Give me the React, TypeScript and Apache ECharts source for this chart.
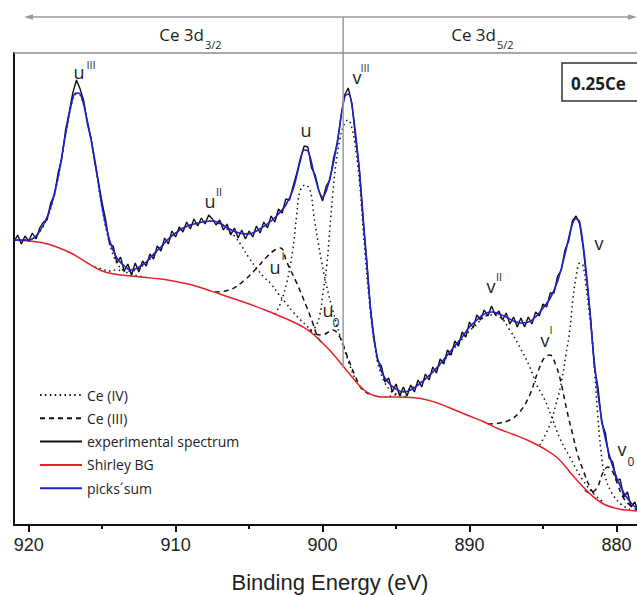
import React, { useEffect, useRef } from "react";
import * as echarts from "echarts";

// ---------- data (binding energy in eV, intensity in arbitrary units) ----------
const majorTicks = [920, 910, 900, 890, 880];
const minorTicks = [915, 905, 895, 885];
const energyMin = 878.6;
const energyMax = 921.0;
const separatorEnergy = 898.6;

// experimental spectrum, sampled every 0.25 eV starting at 921.00 eV going down
const expStart = 921.0;
const expStep = 0.25;
const experimental = [
  283, 290, 281, 289, 284, 292, 286, 297, 303, 305, 322, 330,
  352, 366, 394, 412, 432, 445, 436, 424, 401, 386, 362, 343,
  322, 304, 281, 279, 262, 268, 254, 261, 250, 262, 253, 264,
  259, 271, 266, 279, 274, 287, 281, 294, 288, 298, 293, 303,
  296, 306, 299, 307, 301, 310, 306, 300, 305, 295, 301, 290,
  297, 287, 295, 286, 294, 288, 299, 292, 303, 297, 309, 303,
  316, 312, 326, 325, 339, 352, 367, 379, 378, 357, 350, 334,
  324, 339, 345, 367, 381, 408, 430, 437, 421, 386, 357, 306,
  266, 218, 188, 164, 159, 143, 147, 133, 141, 129, 138, 129,
  140, 133, 145, 138, 151, 145, 158, 152, 166, 161, 175, 170,
  184, 179, 193, 188, 203, 197, 210, 205, 215, 209, 219, 210,
  214, 205, 212, 201, 208, 198, 207, 198, 208, 201, 213, 209,
  221, 218, 232, 232, 249, 255, 275, 284, 304, 309, 301, 276,
  242, 206, 158, 137, 102, 92, 67, 63, 44, 46, 28, 33,
  18, 23, 13,
];

const picksSum: [number, number][] = [
  [921.0, 285], [920.5, 285], [920.0, 285], [919.5, 289], [919.0, 300], [918.5, 318],
  [918.0, 348], [917.5, 390], [917.0, 427], [916.75, 432], [916.5, 431], [916.0, 403],
  [915.5, 365], [915.0, 318], [914.5, 285], [914.0, 267], [913.5, 259], [913.0, 255],
  [912.5, 258], [912.0, 263], [911.5, 271], [911.0, 278], [910.5, 286], [910.0, 292],
  [909.5, 297], [909.0, 300], [908.5, 302], [908.0, 303.5], [907.5, 304], [907.0, 302],
  [906.5, 297.5], [906.0, 293.5], [905.5, 291.5], [905.0, 291], [904.5, 294], [904.0, 298.5],
  [903.5, 304], [903.0, 311], [902.5, 320], [902.0, 336], [901.5, 365], [901.25, 375],
  [901.0, 374], [900.5, 347], [900.0, 328], [899.5, 347], [899.0, 383], [898.5, 428],
  [898.25, 431], [898.0, 420], [897.5, 355], [897.0, 263], [896.5, 185], [896.0, 154],
  [895.5, 142], [895.0, 136], [894.5, 133], [894.0, 135], [893.5, 140], [893.0, 146],
  [892.5, 153], [892.0, 161], [891.5, 170], [891.0, 179], [890.5, 188], [890.0, 198],
  [889.5, 205], [889.0, 211], [888.5, 213], [888.0, 211], [887.5, 208], [887.0, 204],
  [886.5, 202], [886.0, 203], [885.5, 208], [885.0, 217], [884.5, 227], [884.0, 244],
  [883.5, 271], [883.0, 301], [882.75, 306], [882.5, 303], [882.0, 245], [881.5, 162],
  [881.0, 105], [880.5, 71], [880.0, 48], [879.5, 32], [879.0, 22], [878.5, 15],
];

const shirleyBG: [number, number][] = [
  [921, 285], [920, 284], [919, 282], [918, 277.5], [917, 271], [916, 262], [915, 254],
  [914, 250.5], [913, 249], [912, 247.4], [911, 246], [910, 243.5], [909, 240.5],
  [908, 236], [907, 231], [906, 226], [905, 221], [904, 215.5], [903, 209.5], [902, 203],
  [901, 195], [900, 182], [899.5, 174.5], [899, 166], [898.5, 157], [898, 148],
  [897.5, 139.5], [897, 133], [896.5, 129.5], [896, 128], [895, 128], [894, 127.5],
  [893, 125.5], [892, 121], [891, 115], [890, 109], [889, 103], [888, 96], [887, 90.5],
  [886, 84.5], [885, 77], [884, 67], [883, 50], [882, 34], [881, 22], [880, 16.5],
  [879, 14.5], [878.5, 14],
];

// Ce(IV) components (dotted)
const peakU3: [number, number][] = [
  [921.0, 285], [920.0, 285], [919.5, 289], [919.0, 299], [918.5, 317], [918.0, 347],
  [917.5, 389], [917.0, 426], [916.75, 431], [916.5, 430], [916.0, 402], [915.5, 364],
  [915.0, 316], [914.5, 282], [914.0, 262], [913.5, 254], [913.0, 251], [912.5, 249],
  [912.0, 247.5],
];
const peakU2: [number, number][] = [
  [915.5, 258], [915.0, 256], [914.5, 254], [914.0, 255], [913.5, 254], [913.0, 254],
  [912.5, 257], [912.0, 262], [911.0, 278], [910.0, 292], [909.0, 300], [908.0, 303.5],
  [907.5, 304], [907.0, 301], [906.5, 296], [906.0, 289], [905.5, 279], [905.0, 267],
  [904.5, 257], [904.0, 248], [903.5, 241], [903.0, 231], [902.5, 222], [902.0, 213],
  [901.5, 205], [901.0, 198], [900.5, 190],
];
const peakU: [number, number][] = [
  [903.25, 211], [902.91, 220], [902.44, 242], [902.03, 275], [901.76, 310], [901.55, 333],
  [901.19, 340], [900.85, 335], [900.6, 310], [900.33, 285], [900.06, 263], [899.71, 238],
  [899.31, 215], [898.83, 190], [898.28, 165], [897.81, 147], [897.6, 141],
];
const peakV3: [number, number][] = [
  [900.85, 195], [900.53, 197], [900.19, 210], [899.99, 230], [899.71, 260], [899.51, 295],
  [899.31, 330], [899.1, 360], [898.83, 385], [898.55, 400], [898.28, 405], [898.01, 397],
  [897.74, 375], [897.47, 340], [897.13, 275], [896.79, 220], [896.45, 180], [896.11, 155],
  [895.43, 135], [894.74, 130], [894.06, 128],
];
const peakV2: [number, number][] = [
  [895.77, 128], [895.09, 130], [894.4, 134], [893.38, 142], [892.02, 160], [890.66, 183],
  [889.64, 199], [888.62, 210], [887.94, 208], [887.26, 195], [886.58, 178], [885.9, 158],
  [885.42, 140], [884.87, 125], [884.33, 105], [883.86, 87], [883.18, 68], [882.29, 45],
  [881.47, 30], [880.79, 22],
];
const peakV: [number, number][] = [
  [885.21, 80], [884.53, 100], [884.13, 120], [883.78, 140], [883.44, 170], [883.17, 195],
  [882.97, 225], [882.7, 252], [882.49, 262], [882.29, 260], [882.08, 240], [881.88, 215],
  [881.67, 190], [881.47, 150], [881.27, 110], [881.06, 75], [880.79, 50], [880.31, 32],
  [879.63, 20], [879.09, 16],
];

// Ce(III) components (dashed)
const peakU1: [number, number][] = [
  [907.34, 233], [906.32, 235], [905.3, 245], [904.48, 257], [903.8, 268], [903.25, 275],
  [902.85, 277], [902.44, 263], [901.76, 242], [901.08, 218], [900.67, 202], [900.33, 188],
  [899.99, 181],
];
const peakU0: [number, number][] = [
  [901.0, 195], [900.5, 191], [900.0, 190], [899.6, 193], [899.3, 195], [898.83, 188],
  [898.35, 170], [897.81, 150], [897.33, 136], [896.79, 131],
];
const peakV1: [number, number][] = [
  [888.75, 101], [887.94, 102], [887.26, 105], [886.58, 113], [885.9, 130], [885.35, 153],
  [884.87, 168], [884.53, 170], [884.13, 160], [883.78, 143], [883.38, 115], [882.97, 90],
  [882.63, 70], [882.22, 53], [881.81, 38], [881.4, 28],
];
const peakV0: [number, number][] = [
  [882.15, 35], [881.81, 32], [881.33, 37], [880.93, 52], [880.59, 58], [880.25, 53],
  [879.9, 40], [879.56, 28], [879.09, 20], [878.61, 15],
];

const legendNames = ["Ce (IV)", "Ce (III)", "experimental spectrum", "Shirley BG", "picks\u00B4sum"];

// ---------- chart ----------
const TXT = "#1e1e1e";
const SANS = '"Open Sans"';

function txt(text: string, x: number, y: number, size: number, extra: any = {}) {
  return {
    type: "text",
    x,
    y,
    z: 100,
    silent: true,
    style: {
      text,
      fill: extra.fill || TXT,
      font: `${extra.weight || "normal"} ${size}px ${extra.family || SANS}`,
      align: extra.align || "center",
      textAlign: extra.align || "center",
      verticalAlign: "middle",
      textVerticalAlign: "middle",
    },
  };
}

export default function App() {
  const ref = useRef<HTMLDivElement>(null);
  useEffect(() => {
    if (!ref.current) return;
    const chart = echarts.init(ref.current, null, { renderer: "svg", width: 637, height: 595 });

    const dotted = { color: "#111", width: 1.5, type: [1.5, 3.4] };
    const dashed = { color: "#111", width: 1.5, type: [5, 4] };
    const line = (name: string, data: any, lineStyle: any, smooth: any, z: number) => ({
      type: "line",
      name,
      data,
      xAxisIndex: 0,
      yAxisIndex: 0,
      symbol: "none",
      showSymbol: false,
      smooth,
      color: lineStyle.color,
      lineStyle,
      z,
      silent: true,
    });

    const expData = experimental.map((v, i) => [expStart - i * expStep, v]);

    const axisBase = {
      type: "value",
      min: energyMin,
      max: energyMax,
      inverse: true,
      splitLine: { show: false },
    };

    chart.setOption({
      animation: false,
      backgroundColor: "#ffffff",
      grid: { left: 14, right: 0, top: 53, bottom: 70 },
      xAxis: [
        {
          ...axisBase,
          position: "bottom",
          axisLine: { show: true, lineStyle: { color: "#111", width: 2 } },
          axisTick: {
            show: true,
            customValues: majorTicks,
            length: 7,
            lineStyle: { color: "#111", width: 2 },
          },
          axisLabel: {
            show: true,
            customValues: majorTicks,
            fontSize: 18,
            fontFamily: "Liberation Sans",
            color: "#222",
            margin: 11,
          },
        },
        {
          ...axisBase,
          position: "bottom",
          axisLine: { show: false },
          axisTick: {
            show: true,
            customValues: minorTicks,
            length: 4,
            lineStyle: { color: "#111", width: 2 },
          },
          axisLabel: { show: false },
        },
      ],
      yAxis: {
        type: "value",
        min: 0,
        max: 472,
        axisLine: { show: true, lineStyle: { color: "#111", width: 2 } },
        axisTick: { show: false },
        axisLabel: { show: false },
        splitLine: { show: false },
      },
      legend: {
        data: legendNames,
        orient: "vertical",
        left: 39,
        top: 388,
        padding: 0,
        itemWidth: 42,
        itemHeight: 14,
        itemGap: 9.3,
        selectedMode: false,
        itemStyle: { opacity: 0, borderWidth: 0 },
        textStyle: { fontFamily: "Open Sans", fontSize: 14, color: "#222" },
      },
      series: [
        line("Ce (IV)", peakU3, dotted, 0.4, 2),
        line("Ce (IV)", peakU2, dotted, 0.4, 2),
        line("Ce (IV)", peakU, dotted, 0.4, 2),
        line("Ce (IV)", peakV3, dotted, 0.4, 2),
        line("Ce (IV)", peakV2, dotted, 0.4, 2),
        line("Ce (IV)", peakV, dotted, 0.4, 2),
        line("Ce (III)", peakU1, dashed, 0.4, 2),
        line("Ce (III)", peakU0, dashed, 0.4, 2),
        line("Ce (III)", peakV1, dashed, 0.4, 2),
        line("Ce (III)", peakV0, dashed, 0.4, 2),
        line("Shirley BG", shirleyBG, { color: "#e8202a", width: 1.5, type: "solid" }, 0.4, 3),
        line("experimental spectrum", expData, { color: "#111", width: 1.4, type: "solid" }, false, 4),
        line("picks\u00B4sum", picksSum, { color: "#2020cc", width: 1.6, type: "solid" }, 0.4, 5),
      ],
    });

    const sepX = chart.convertToPixel({ xAxisIndex: 0 }, separatorEnergy) as number;
    const gray = "#9a9a9a";

    const elements: any[] = [
      // header arrow
      { type: "line", silent: true, z: 90, shape: { x1: 28, y1: 17, x2: 632, y2: 17 }, style: { stroke: gray, lineWidth: 1.5 } },
      { type: "polygon", silent: true, z: 90, shape: { points: [[24, 17], [33, 14.3], [33, 19.7]] }, style: { fill: gray } },
      { type: "polygon", silent: true, z: 90, shape: { points: [[637, 17], [628, 14.3], [628, 19.7]] }, style: { fill: gray } },
      // separator
      { type: "line", silent: true, z: 90, shape: { x1: sepX, y1: 17, x2: sepX, y2: 368 }, style: { stroke: gray, lineWidth: 1.5 } },
      // top frame
      { type: "line", silent: true, z: 90, shape: { x1: 14, y1: 53, x2: 637, y2: 53 }, style: { stroke: "#8c8c8c", lineWidth: 1.5 } },
      // sample box
      { type: "rect", silent: true, z: 95, shape: { x: 562, y: 63, width: 90, height: 38 }, style: { fill: "#fff", stroke: "#333", lineWidth: 1.5 } },
      txt("0.25Ce", 571, 83, 17, { weight: "bold", align: "left" }),
      // header texts
      txt("Ce 3d", 204, 34, 17, { align: "right" }),
      txt("3/2", 205, 44, 11, { align: "left" }),
      txt("Ce 3d", 496, 34, 17, { align: "right" }),
      txt("5/2", 497, 44, 11, { align: "left" }),
      // peak labels
      txt("u", 79, 72, 18), txt("III", 91, 64, 11),
      txt("u", 210, 201, 18), txt("II", 219, 191, 11),
      txt("u", 306, 130, 18),
      txt("u", 275, 267, 18), txt("I", 283, 255, 11),
      txt("u", 328, 310, 18), txt("0", 336, 322, 12),
      txt("v", 357, 77, 18), txt("III", 365, 67, 11),
      txt("v", 491, 286, 18), txt("II", 499, 276, 11),
      txt("v", 545, 340, 18), txt("I", 551, 329, 11),
      txt("v", 599, 243, 18),
      txt("v", 622, 449, 18), txt("0", 631, 461, 12),
      // axis title
      txt("Binding Energy (eV)", 330, 582, 22, { family: '"Liberation Sans"', fill: "#222" }),
    ];

    chart.setOption({ graphic: { elements } });

    return () => chart.dispose();
  }, []);

  return (
    <div
      ref={ref}
      style={{ position: "fixed", left: 0, top: 0, width: 637, height: 595, background: "#fff" }}
    />
  );
}
